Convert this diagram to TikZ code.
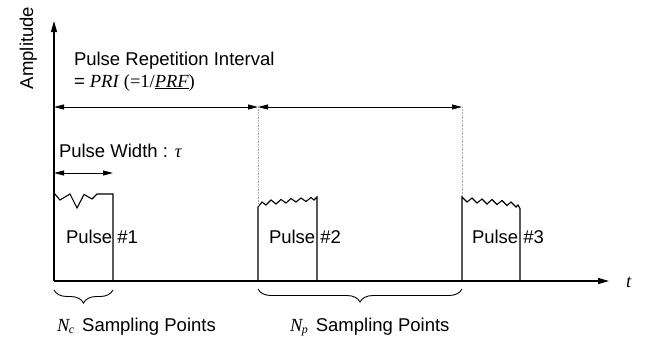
\documentclass[tikz,border=0pt]{standalone}
\usepackage{fontspec}
\setmainfont{Liberation Sans}
\newfontfamily\tms{Liberation Serif}
\usetikzlibrary{arrows.meta,decorations.pathreplacing}
\begin{document}
\begin{tikzpicture}[x=1pt,y=-1pt,
  every node/.style={inner sep=0pt,outer sep=0pt,font=\fontsize{18.5}{20}\selectfont},
  axisline/.style={line width=1.2pt,-{Triangle[length=11pt,width=6pt]}},
  pulseline/.style={line width=1.1pt,line join=miter},
  dimarrow/.style={line width=0.9pt,{Triangle[length=10pt,width=5pt]}-{Triangle[length=10pt,width=5pt]}},
  guide/.style={gray!70,densely dotted,line width=0.6pt},
  bracestyle/.style={line width=0.9pt,decorate,decoration={brace,mirror,amplitude=13pt}},
  lbl/.style={anchor=base west}]
\useasboundingbox (0,0) rectangle (648,341);
% coordinates
\coordinate (O) at (54,281);
\coordinate (Ytop) at (54,21);
\coordinate (Xend) at (609,281);
% axes
\draw[axisline] (O) -- (Ytop);
\draw[axisline] (O) -- (Xend);
\node[rotate=90,anchor=base] (amp) at (33,48) {Amplitude};
\node[lbl] (tlbl) at (626,287) {\tms\itshape t};
% pulse 1
\draw[pulseline] (54,281) -- (54,193) -- (60,200) -- (70,194) -- (77,208) -- (84,194.5) -- (92,199) -- (97,194) -- (113,194) -- (113,281);
% pulse 2
\draw[pulseline] (258,281) -- (258,207) -- (262,202) -- (266,205) -- (271,200) -- (276,204) -- (281,199.5) -- (286,203) -- (291,198.5) -- (296,202) -- (301,198) -- (306,201.5) -- (311,197.5) -- (314,200) -- (317,197) -- (317,281);
% pulse 3
\draw[pulseline] (462,281) -- (462,197) -- (467,202) -- (472,198) -- (477,203) -- (482,199) -- (487,204) -- (492,199.5) -- (497,204.5) -- (502,200.5) -- (507,205.5) -- (511,202) -- (516,207) -- (518,205) -- (520,208.5) -- (520,281);
% guides
\coordinate (A0) at (54,107);
\coordinate (A1) at (258,107);
\coordinate (A2) at (462,107);
\draw[guide] (A1) -- (258,206);
\draw[guide] (A2) -- (462,196);
% PRI arrows
\draw[dimarrow] (A0) -- (A1);
\draw[dimarrow] (A1) -- (A2);
\node[lbl] (pri1) at (74,65.3) {Pulse Repetition Interval};
\node[lbl] (pri2) at (74,87) {= {\tms\itshape PRI} {\tms (=1/\underline{\itshape PRF})}};
% pulse width
\coordinate (W0) at (54,173);
\coordinate (W1) at (113,173);
\draw[dimarrow] (W0) -- (W1);
\node[lbl] (pw) at (59,157) {Pulse Width : {\tms\itshape τ}};
% pulse labels
\node[lbl] (pl1) at (66,243) {Pulse \#1};
\node[lbl] (pl2) at (269,243) {Pulse \#2};
\node[lbl] (pl3) at (472,243) {Pulse \#3};
% braces
\coordinate (B0) at (54,290);
\coordinate (B1) at (113,290);
\coordinate (B2) at (258,289);
\coordinate (B3) at (462,289);
\draw[bracestyle] (B0) -- (B1);
\draw[bracestyle] (B2) -- (B3);
\node[lbl] (nc) at (57,331) {{\tms\itshape N\kern-0.5pt\raisebox{-0.35ex}{\fontsize{12}{12}\selectfont c}}\hspace{8pt}Sampling Points};
\node[lbl] (np) at (290,331) {{\tms\itshape N\kern-0.5pt\raisebox{-0.35ex}{\fontsize{12}{12}\selectfont p}}\hspace{8pt}Sampling Points};
\end{tikzpicture}
\end{document}
